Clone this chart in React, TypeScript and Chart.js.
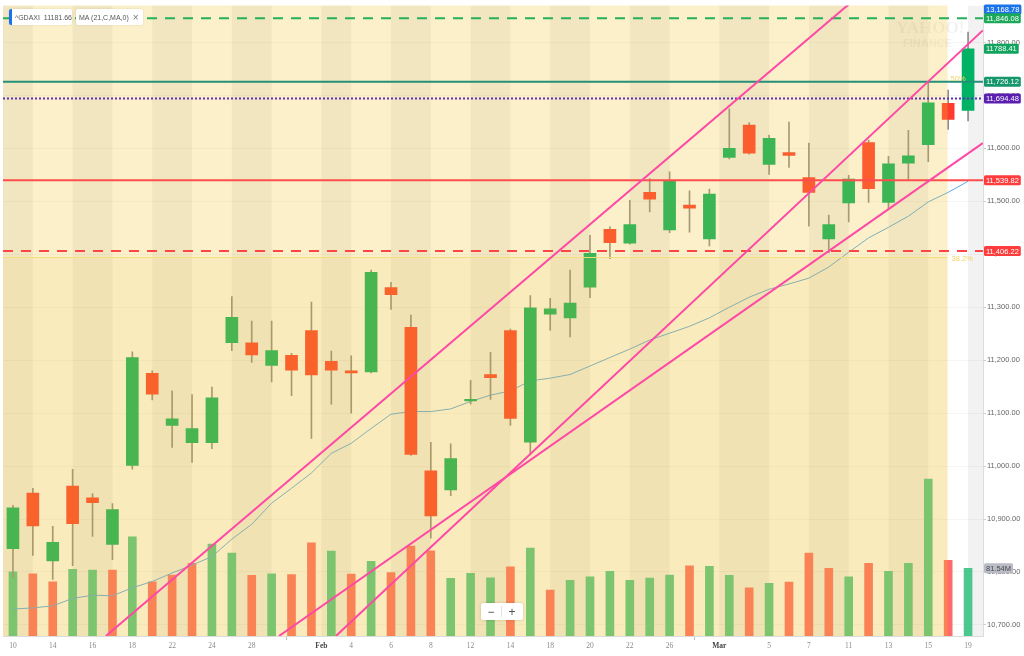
import { useEffect, useRef } from 'react';
import { Chart, registerables } from 'chart.js';

Chart.register(...registerables);

// ^GDAXI daily candles, Jan 10 - Mar 19 2019
const opens = [
  10844, 10949, 10821, 10962, 10940, 10852, 11001, 11175, 11077, 11044,
  11044, 11233, 11233, 11190, 11209, 11256, 11198, 11180, 11178, 11337,
  11262, 10991, 10955, 11123, 11173, 11256, 11045, 11287, 11280, 11338,
  11447, 11421, 11517, 11446, 11493, 11429, 11583, 11644, 11570, 11592,
  11545, 11429, 11497, 11611, 11498, 11572, 11607, 11685, 11672,
];
const highs = [
  10926, 10958, 10886, 10994, 10948, 10929, 11216, 11180, 11142, 11135,
  11149, 11320, 11274, 11274, 11213, 11310, 11217, 11208, 11370, 11347,
  11285, 11045, 11042, 11162, 11215, 11259, 11322, 11317, 11370, 11436,
  11452, 11502, 11543, 11556, 11520, 11523, 11675, 11649, 11625, 11650,
  11610, 11474, 11549, 11616, 11585, 11634, 11726, 11710, 11820,
];
const lows = [
  10789, 10831, 10786, 10812, 10867, 10823, 10994, 11125, 11035, 11007,
  11033, 11218, 11196, 11159, 11133, 11052, 11117, 11100, 11176, 11296,
  11020, 10864, 10944, 11117, 11126, 11077, 11021, 11256, 11244, 11318,
  11392, 11419, 11480, 11441, 11442, 11416, 11580, 11589, 11551, 11564,
  11453, 11403, 11461, 11498, 11486, 11540, 11575, 11636, 11652,
];
const closes = [
  10921, 10887, 10856, 10891, 10931, 10918, 11205, 11136, 11089, 11071,
  11129, 11281, 11210, 11218, 11181, 11172, 11181, 11176, 11366, 11324,
  11022, 10906, 11014, 11126, 11167, 11090, 11299, 11297, 11308, 11402,
  11422, 11456, 11504, 11538, 11487, 11514, 11600, 11591, 11619, 11587,
  11517, 11456, 11542, 11524, 11571, 11586, 11686, 11655, 11788,
];
// MA (21) as drawn
const maValues = [
  10730, 10732, 10736, 10750, 10756, 10755, 10770, 10782, 10798, 10813,
  10829, 10862, 10890, 10930, 10958, 10987, 11024, 11043, 11071, 11098,
  11103, 11103, 11108, 11122, 11134, 11142, 11161, 11166, 11173, 11189,
  11205, 11221, 11238, 11251, 11264, 11280, 11300, 11319, 11334, 11344,
  11355, 11376, 11404, 11431, 11451, 11472, 11499, 11517, 11538,
];
// volume in millions
const volumes = [
  77.5, 75, 65.4, 80.3, 79.5, 79.5, 119.6, 65.4, 73.5, 87.6,
  110.8, 100, 73.1, 75, 73.9, 112.4, 102.4, 74.7, 90, 76.3,
  108.4, 102.8, 69.5, 75.5, 70.2, 83.5, 106, 55.4, 67.1, 71.4,
  78, 67.1, 69.9, 73.5, 84.7, 84, 73.1, 58.2, 63.5, 65,
  100, 81.6, 71.4, 87.6, 78, 87.6, 189, 91.2, 81.54,
];

const xTickIdx = [0, 2, 4, 6, 8, 10, 12, 15.5, 17, 19, 21, 23, 25, 27, 29, 31, 33, 35.5, 38, 40, 42, 44, 46, 48];
const xTickText = ['10', '14', '16', '18', '22', '24', '28', 'Feb', '4', '6', '8', '12', '14', '18', '20', '22', '26', 'Mar', '5', '7', '11', '13', '15', '19'];
const yTicks = [10700, 10800, 10900, 11000, 11100, 11200, 11300, 11400, 11500, 11600, 11700, 11800];
const bandEdges = [-0.5, 1, 3, 5, 7, 9, 11, 13, 15.5, 17, 19, 21, 23, 25, 27, 29, 31, 33, 35.5, 38, 40, 42, 44, 46, 48, 50];

// horizontal price lines
const levelValues = [11846.08, 11726.12, 11694.48, 11539.82, 11406.22];
// fibonacci retracement
const fibValues = [11726.12, 11394];
const fibText = ['50%', '38.2%'];
const fibEndIdx = 46.97;
// trend lines: [startIdx, startPrice, endIdx, endPrice]
const trendLines = [
  [4.67, 10679, 42.06, 11874],
  [13.37, 10679, 48.74, 11610],
  [16.23, 10679, 48.74, 11823],
];
// right axis price tags
const tagValues = [13168.78, 11846.08, 11788.41, 11726.12, 11694.48, 11539.82, 11406.22];
const tagTexts = ['13,168.78', '11,846.08', '11788.41', '11,726.12', '11,694.48', '11,539.82', '11,406.22'];
const volTagValue = 81.54;
const volTagText = '81.54M';

const X_MIN = -0.5;
const X_MAX = 48.75;
const Y_MIN = 10679;
const Y_MAX = 11870;

const UP = '#00b263';
const DOWN = '#ff3b30';
const VOL_UP = '#4cc88f';
const VOL_DOWN = '#ff6b6b';
const levelStyles = [
  { color: '#25b05e', dash: [10, 8] },
  { color: '#24907a', dash: [] },
  { color: '#5b2fc0', dash: [2, 2] },
  { color: '#ff4d4d', dash: [] },
  { color: '#ff4646', dash: [10, 8] },
];
const tagColors = ['#1a73e8', '#1aa85a', '#12a35e', '#16976b', '#5b1fb0', '#ff3c3c', '#ff3c3c'];
const FONT = '"Liberation Sans", Arial, sans-serif';

const idx = opens.map((_, i) => i);

const backdropPlugin = {
  id: 'backdrop',
  beforeDraw(chart: any) {
    const { ctx, chartArea: a, scales } = chart;
    const x = scales.x;
    ctx.save();
    ctx.beginPath();
    ctx.rect(a.left, a.top, a.right - a.left, a.bottom - a.top);
    ctx.clip();
    for (let i = 0; i < bandEdges.length - 1; i++) {
      if (i % 2 !== 0) continue;
      const x0 = x.getPixelForValue(bandEdges[i]);
      const x1 = x.getPixelForValue(bandEdges[i + 1]);
      ctx.fillStyle = '#f2f2f2';
      ctx.fillRect(x0, a.top, x1 - x0, a.bottom - a.top);
    }
    ctx.restore();
  },
  beforeDatasetsDraw(chart: any) {
    const { ctx } = chart;
    ctx.save();
    ctx.fillStyle = 'rgba(0,0,0,0.055)';
    ctx.font = 'bold 17px "Liberation Serif", serif';
    ctx.fillText('YAHOO!', 896, 33);
    ctx.font = 'bold 11px ' + FONT;
    ctx.fillText('FINANCE', 903, 47);
    ctx.restore();
  },
  afterDatasetDraw(chart: any, args: any) {
    if (chart.data.datasets[args.index].label !== 'candles') return;
    const { ctx, chartArea: a, scales } = chart;
    const xEnd = scales.x.getPixelForValue(fibEndIdx);
    const yFib = scales.y.getPixelForValue(fibValues[1]);
    ctx.save();
    ctx.fillStyle = 'rgba(239,195,39,0.25)';
    ctx.fillRect(a.left, a.top, xEnd - a.left, yFib - a.top);
    ctx.fillStyle = 'rgba(238,188,38,0.3)';
    ctx.fillRect(a.left, yFib, xEnd - a.left, a.bottom - yFib);
    ctx.restore();
  },
  afterDraw(chart: any) {
    const { ctx, chartArea: a, scales } = chart;
    const y = scales.y;
    const xEnd = scales.x.getPixelForValue(fibEndIdx);
    ctx.save();
    ctx.font = '7.5px ' + FONT;
    ctx.textBaseline = 'middle';
    ctx.fillStyle = '#f3d35f';
    ctx.fillText(fibText[0], xEnd + 3, y.getPixelForValue(fibValues[0]) - 3);
    ctx.fillText(fibText[1], xEnd + 4, y.getPixelForValue(fibValues[1]) + 1);

    const drawTag = (cy: number, text: string, bg: string, fg: string) => {
      const w = ctx.measureText(text).width + 4;
      const h = 10;
      const left = a.right + 1;
      ctx.fillStyle = bg;
      ctx.beginPath();
      ctx.roundRect(left, cy - h / 2, w, h, 1.5);
      ctx.fill();
      ctx.fillStyle = fg;
      ctx.fillText(text, left + 2, cy + 0.5);
    };
    tagValues.forEach((v, i) => {
      let cy = y.getPixelForValue(v);
      cy = Math.max(a.top + 4, Math.min(a.bottom - 5, cy));
      drawTag(cy, tagTexts[i], tagColors[i], '#ffffff');
    });
    drawTag(scales.yVol.getPixelForValue(volTagValue), volTagText, '#b9bcc6', '#4a4a4a');
    ctx.restore();
  },
};

const isMonth = (i: number) => !/^\d+$/.test(xTickText[i] || '');

export default function App() {
  const canvasRef = useRef<HTMLCanvasElement>(null);

  useEffect(() => {
    document.body.style.margin = '0';
    const canvas = canvasRef.current;
    if (!canvas) return;

    const line = (pts: { x: number; y: number }[], color: string, width: number, dash: number[], order: number) => ({
      type: 'line' as const,
      data: pts,
      borderColor: color,
      borderWidth: width,
      borderDash: dash,
      pointRadius: 0,
      tension: 0,
      clip: 0,
      order,
    });

    const chart = new Chart(canvas, {
      type: 'bar',
      data: {
        datasets: [
          {
            type: 'bar',
            label: 'volume',
            yAxisID: 'yVol',
            data: idx.map((i) => ({ x: i, y: volumes[i] })),
            backgroundColor: idx.map((i) => (i === 0 || closes[i] >= closes[i - 1] ? VOL_UP : VOL_DOWN)),
            barThickness: 8,
            grouped: false,
            order: 10,
          },
          {
            ...line(idx.map((i) => ({ x: i, y: maValues[i] })), '#5aa9e6', 1, [], 9),
            label: 'ma',
          },
          {
            type: 'bar',
            label: 'wicks',
            data: idx.map((i) => ({ x: i, y: [lows[i], highs[i]] })),
            backgroundColor: '#8c8c8c',
            barThickness: 1,
            grouped: false,
            order: 8,
          },
          {
            type: 'bar',
            label: 'candles',
            data: idx.map((i) => ({ x: i, y: [opens[i], closes[i]] })),
            backgroundColor: idx.map((i) => (closes[i] >= opens[i] ? UP : DOWN)),
            barThickness: 12,
            minBarLength: 1,
            grouped: false,
            order: 7,
          },
          ...fibValues.map((v) => ({
            ...line([{ x: X_MIN, y: v }, { x: fibEndIdx, y: v }], '#f6dc84', 1, [], 6),
            label: 'fib',
          })),
          ...levelValues.map((v, i) => ({
            ...line([{ x: X_MIN, y: v }, { x: X_MAX, y: v }], levelStyles[i].color, 2, levelStyles[i].dash, 5),
            label: 'level',
          })),
          ...trendLines.map((t) => ({
            ...line([{ x: t[0], y: t[1] }, { x: t[2], y: t[3] }], '#ff48a5', 2, [], 4),
            label: 'trend',
          })),
        ] as any,
      },
      options: {
        responsive: false,
        animation: false,
        events: [],
        layout: { padding: { left: 3, top: 5, right: 0, bottom: 0 } },
        plugins: { legend: { display: false }, tooltip: { enabled: false } },
        scales: {
          x: {
            type: 'linear',
            min: X_MIN,
            max: X_MAX,
            offset: false,
            grid: {
              drawOnChartArea: false,
              tickLength: 4,
              color: 'transparent',
              tickColor: (c: any) => (isMonth(c.index) ? '#bdbdbd' : 'transparent'),
            },
            border: { color: '#dcdcdc' },
            afterBuildTicks: (s: any) => {
              s.ticks = xTickIdx.map((v) => ({ value: v }));
            },
            afterFit: (s: any) => {
              s.height = 20;
            },
            ticks: {
              autoSkip: false,
              maxRotation: 0,
              padding: 2,
              callback: (_v: any, i: number) => xTickText[i],
              color: (c: any) => (isMonth(c.index) ? '#444444' : '#8a8a8a'),
              font: (c: any) => ({
                family: '"Liberation Serif", "Times New Roman", serif',
                size: 7.5,
                weight: isMonth(c.index) ? 'bold' : 'normal',
              }),
            },
          },
          y: {
            type: 'linear',
            position: 'right',
            min: Y_MIN,
            max: Y_MAX,
            grid: { color: 'rgba(0,0,0,0.04)', tickLength: 3, tickColor: '#cfcfcf' },
            border: { color: '#dcdcdc' },
            afterBuildTicks: (s: any) => {
              s.ticks = yTicks.map((v) => ({ value: v }));
            },
            afterFit: (s: any) => {
              s.width = 41;
            },
            ticks: {
              padding: 1,
              color: '#666666',
              font: { family: FONT, size: 7.5 },
              callback: (v: any) =>
                Number(v).toLocaleString('en-US', { minimumFractionDigits: 2, maximumFractionDigits: 2 }),
            },
          },
          yVol: {
            type: 'linear',
            display: false,
            min: 0,
            max: 760,
          },
        },
      } as any,
      plugins: [backdropPlugin],
    });

    return () => chart.destroy();
  }, []);

  const box = {
    position: 'absolute' as const,
    top: 9,
    height: 16,
    background: '#ffffff',
    borderRadius: 2,
    boxShadow: '0 0 2px rgba(0,0,0,0.12)',
    display: 'flex',
    alignItems: 'center',
    font: '7px ' + FONT,
    color: '#555555',
    whiteSpace: 'nowrap' as const,
  };

  return (
    <div style={{ position: 'relative', width: 1024, height: 656, fontFamily: FONT }}>
      <canvas ref={canvasRef} width={1024} height={656} style={{ display: 'block' }} />
      <div style={{ ...box, left: 9, width: 63 }}>
        <span style={{ width: 3, height: 16, background: '#1a73e8', borderRadius: '2px 0 0 2px', marginRight: 3 }} />
        ^GDAXI&nbsp;&nbsp;11181.66
      </div>
      <div style={{ ...box, left: 76, width: 67, paddingLeft: 3, boxSizing: 'border-box' }}>
        MA (21,C,MA,0)
        <span style={{ marginLeft: 4, fontSize: 10, color: '#777' }}>×</span>
      </div>
      <div
        style={{
          position: 'absolute',
          left: 481,
          top: 603,
          width: 42,
          height: 17,
          background: '#ffffff',
          borderRadius: 2,
          boxShadow: '0 0 3px rgba(0,0,0,0.18)',
          display: 'flex',
          alignItems: 'center',
          fontSize: 12,
          color: '#555',
        }}
      >
        <span style={{ width: 20, textAlign: 'center' }}>−</span>
        <span style={{ width: 1, height: 11, background: '#e2e2e2' }} />
        <span style={{ width: 20, textAlign: 'center' }}>+</span>
      </div>
    </div>
  );
}
